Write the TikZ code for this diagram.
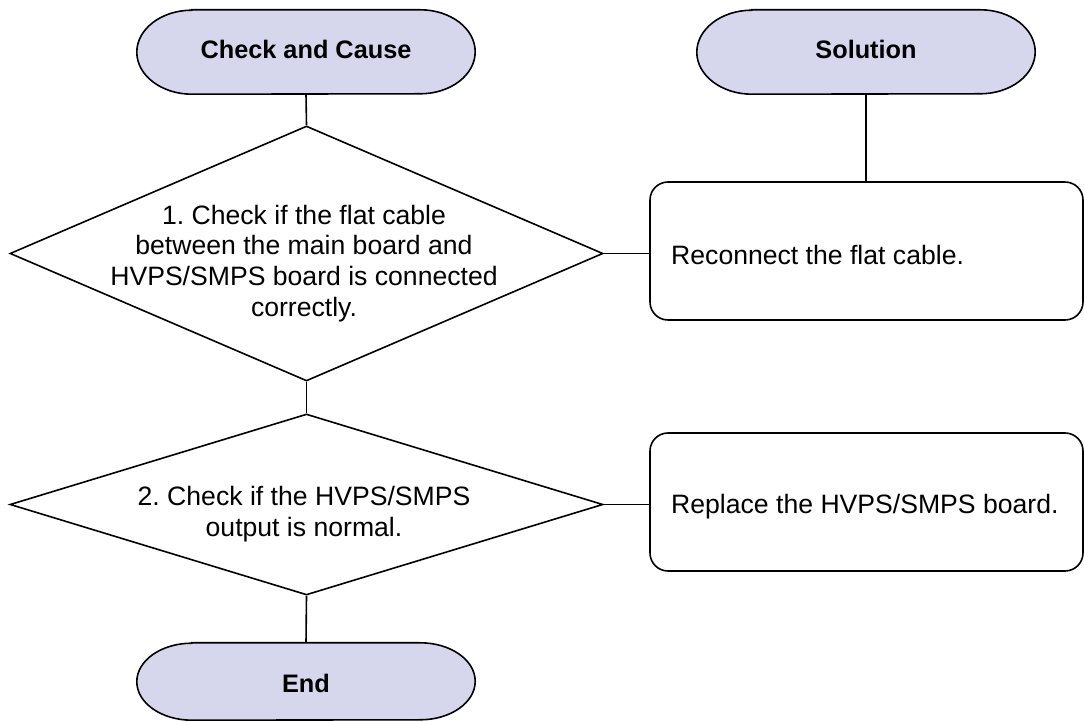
\documentclass[tikz,border=0pt]{standalone}
\usepackage{fontspec}
\setmainfont{Liberation Sans}
\usetikzlibrary{shapes.geometric}
\frenchspacing
\definecolor{termfill}{RGB}{214,215,236}
\tikzset{
  line/.style={line width=1.6pt, draw=black},
  termbox/.style={rectangle, inner sep=0pt, minimum width=338pt, minimum height=84pt},
  termtxt/.style={font=\fontsize{25.3}{29}\selectfont\bfseries, inner sep=0pt},
  decision/.style={diamond, draw=black, line width=1.6pt, inner sep=0pt, minimum width=593pt, minimum height=255pt},
  dectxt/.style={font=\fontsize{26.6}{30.8}\selectfont\frenchspacing, align=center, inner sep=0pt},
  solbox/.style={rectangle, draw=black, line width=1.6pt, rounded corners=18pt, minimum width=433pt, minimum height=138pt, inner sep=0pt},
  soltxt/.style={font=\fontsize{26.6}{30.8}\selectfont, inner sep=0pt, anchor=base west},
}
\newcommand{\stadium}[3]{% node, x radius, y radius
  \draw[line, fill=termfill] ([xshift=#2]#1.north west) -- ([xshift=-#2]#1.north east)
    arc[start angle=90, end angle=-90, x radius=#2, y radius=#3]
    -- ([xshift=#2]#1.south west)
    arc[start angle=270, end angle=90, x radius=#2, y radius=#3] -- cycle;}
\begin{document}
\begin{tikzpicture}[x=1pt, y=1pt]
\useasboundingbox (0,0) rectangle (1084,722);
% terminals
\node[termbox] (cause) at (306,670) {};
\node[termbox] (sol) at (866,670) {};
\node[termbox, minimum height=77pt] (end) at (306,40.5) {};
\stadium{cause}{55pt}{42pt}
\stadium{sol}{55pt}{42pt}
\stadium{end}{55pt}{38.5pt}
\node[termtxt, anchor=base] (causet) at (306,663) {Check and Cause};
\node[termtxt, anchor=base] (solt) at (866,663) {Solution};
\node[termtxt, anchor=base] (endt) at (306,29) {End};
% decisions
\node[decision] (d1) at (306.5,468.5) {};
\node[decision, minimum height=181pt] (d2) at (306.5,217.5) {};
\node[dectxt] (d1t) at (304,458.5) {1. Check if the flat cable\\between the main board and\\HVPS/SMPS board is connected\\correctly.};
\node[dectxt] (d2t) at (304,207.5) {2. Check if the HVPS/SMPS\\output is normal.};
% solution boxes
\node[solbox] (b1) at (866.5,471) {};
\node[solbox] (b2) at (866.5,220) {};
\node[soltxt] (b1t) at (671,457) {Reconnect the flat cable.};
\node[soltxt] (b2t) at (671,208) {Replace the HVPS/SMPS board.};
% connectors
\draw[line] (cause.south) -- (d1.north);
\draw[line] (sol.south) -- (sol.south |- b1.north);
\draw[line] (d1.east) -- (d1.east -| b1.west);
\draw[line] (d1.south) -- (d2.north);
\draw[line] (d2.east) -- (d2.east -| b2.west);
\draw[line] (d2.south) -- (end.north);
\end{tikzpicture}
\end{document}
